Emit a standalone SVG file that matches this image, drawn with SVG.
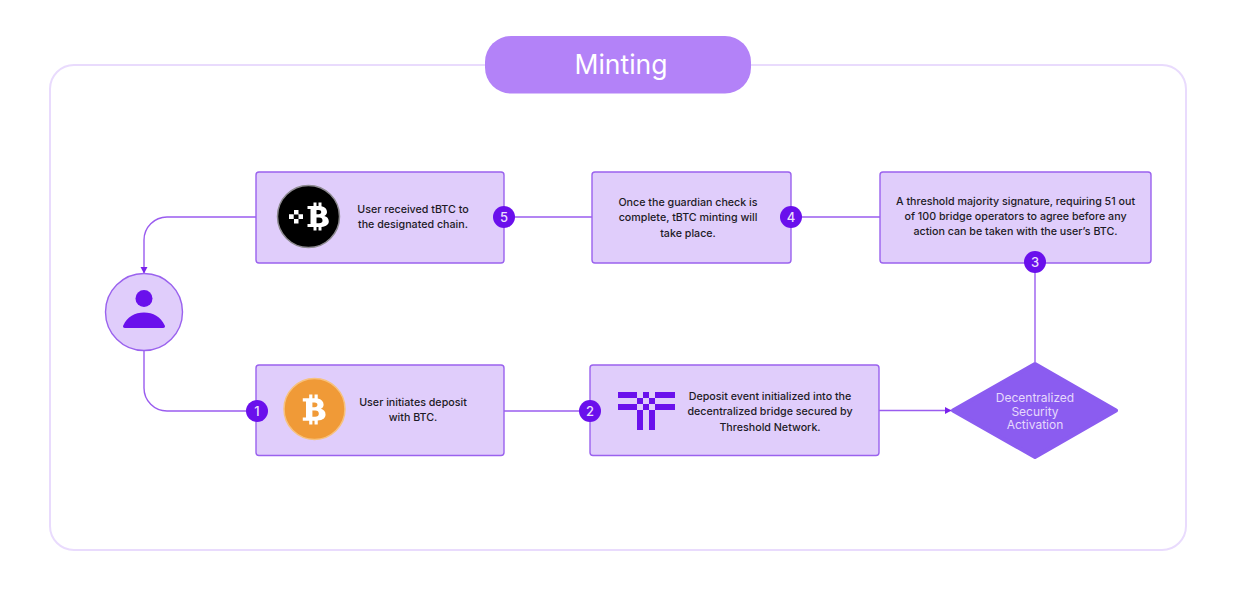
<svg xmlns="http://www.w3.org/2000/svg" width="1238" height="592" viewBox="0 0 1238 592">
<style>
.box{fill:#E0CDFB;stroke:#9A62EE;stroke-width:1.4}
.t{font-family:Inter,"Liberation Sans",sans-serif;font-size:10.7px;font-weight:500;fill:#1d1a26;text-anchor:middle;dominant-baseline:central}
.n{font-family:Inter,"Liberation Sans",sans-serif;font-size:13px;font-weight:500;fill:#EADFFD;text-anchor:middle;dominant-baseline:central}
.b{fill:#6A10EC}
.c{fill:none;stroke:#9A5CEF;stroke-width:1.4}
.d{font-family:Inter,"Liberation Sans",sans-serif;font-size:12px;font-weight:400;fill:#E6D9FC;text-anchor:middle;dominant-baseline:central}
</style>
<defs>
<marker id="arrow" markerWidth="8" markerHeight="8" refX="6" refY="3.5" orient="auto" markerUnits="userSpaceOnUse"><path d="M0 0L6.5 3.5L0 7Z" fill="#7A22EC"/></marker>
<symbol id="btc" viewBox="0 0 22 29" overflow="visible">
<path fill="#fff" fill-rule="evenodd" d="M0.500 4H6.500V0.500H9.500V4H11.500V0.500H14.500V4.300C18 5 20 7 20 10C20 11.800 19 13.200 17.300 13.900C20 14.500 21.800 16.400 21.800 19.200C21.800 22.400 19.500 24.400 14.500 24.900V28.500H11.500V25H9.500V28.500H6.500V25H0.500V22H3.500V7H0.500ZM9.500 8V12.300H11.500C13.500 12.300 14.200 11.400 14.200 10.100C14.200 8.900 13.500 8 11.500 8ZM9.500 15.500V21.200H12C14.400 21.200 15.500 20.200 15.500 18.400C15.500 16.600 14.400 15.500 12 15.500Z"/>
</symbol>
</defs>
<rect width="1238" height="592" fill="#fff"/>
<rect id="frame" x="50" y="65" width="1136" height="485" rx="24" fill="none" stroke="#E9DBFD" stroke-width="2"/>
<g id="connectors">
<path class="c" marker-end="url(#arrow)" d="M256 217H167A23 23 0 0 0 144 240V273"/>
<path class="c" d="M144 351V388A23 23 0 0 0 167 411H246"/>
<path class="c" d="M504 411H580"/>
<path class="c" marker-end="url(#arrow)" d="M879 410.500H951"/>
<path class="c" d="M1035 362V272"/>
<path class="c" d="M801 217H880"/>
<path class="c" d="M514 217H592"/>
</g>
<g id="title"><rect x="485" y="36" width="266" height="57.500" rx="26" fill="#B382F8"/><text x="621" y="64" font-family="Inter,'Liberation Sans',sans-serif" font-size="26.500" fill="#fff" text-anchor="middle" dominant-baseline="central">Minting</text></g>
<g id="user">
<circle cx="144" cy="312" r="38.500" fill="#E0CDFB" stroke="#9A62EE" stroke-width="1.400"/>
<circle cx="144" cy="298.500" r="8.500" fill="#6A10EC"/>
<path fill="#6A10EC" d="M125 328C123 328 122.500 326.500 123.500 325C127 317 135 312.500 144 312.500C153 312.500 161 317 164.500 325C165.500 326.500 165 328 163 328Z"/>
</g>
<g id="step5">
<rect class="box" x="256" y="172" width="248" height="91" rx="3"/>
<circle cx="308.500" cy="216.500" r="31" fill="#000" stroke="#8d8a90" stroke-width="1.500"/>
<path fill="#fff" d="M289 214.300H293.700V219H289ZM294 210H298.500V214.500H294ZM298.500 214.300H303V219H298.500ZM294 219H298.500V223.500H294Z"/>
<use href="#btc" x="307" y="202" width="22" height="29"/>
<text class="t" x="413" y="209">User received tBTC to</text>
<text class="t" x="413" y="224.500">the designated chain.</text>
</g>
<g id="step4">
<rect class="box" x="592" y="172" width="199" height="91" rx="3"/>
<text class="t" x="688" y="202">Once the guardian check is</text>
<text class="t" x="688" y="217.500">complete, tBTC minting will</text>
<text class="t" x="688" y="233">take place.</text>
</g>
<g id="step3">
<rect class="box" x="880" y="172" width="271" height="91" rx="3"/>
<text class="t" x="1015.500" y="201">A threshold majority signature, requiring 51 out</text>
<text class="t" x="1015.500" y="216">of 100 bridge operators to agree before any</text>
<text class="t" x="1015.500" y="231">action can be taken with the user’s BTC.</text>
</g>
<g id="step1">
<rect class="box" x="256" y="365" width="248" height="90.500" rx="3"/>
<circle cx="314.500" cy="409" r="30.500" fill="#F09A37" stroke="#F7C27E" stroke-width="1.500"/>
<use href="#btc" x="302" y="394" width="24" height="31"/>
<text class="t" x="413" y="402">User initiates deposit</text>
<text class="t" x="413" y="417.500">with BTC.</text>
</g>
<g id="step2">
<rect class="box" x="590" y="365" width="289" height="90.500" rx="3"/>
<path fill="#6A10EC" d="M618 392H637V398H618ZM643 392H649V398H643ZM655 392H675V398H655ZM637 398H643V404H637ZM649 398H655V404H649ZM618 404H637V410H618ZM643 404H649V410H643ZM655 404H675V410H655ZM637 410H643V430H637ZM649 410H655V430H649Z"/>
<text class="t" x="770" y="396">Deposit event initialized into the</text>
<text class="t" x="770" y="411.500">decentralized bridge secured by</text>
<text class="t" x="770" y="427">Threshold Network.</text>
</g>
<g id="decision">
<path fill="#8B5CF0" stroke="#8B5CF0" stroke-width="4" stroke-linejoin="round" d="M1035 364L1116 410.500L1035 457L953 410.500Z"/>
<text class="d" x="1035" y="397.500">Decentralized</text>
<text class="d" x="1035" y="411">Security</text>
<text class="d" x="1035" y="424.500">Activation</text>
</g>
<g id="badges">
<g id="badge1"><circle class="b" cx="257" cy="411" r="11"/><text class="n" x="257" y="411">1</text></g>
<g id="badge2"><circle class="b" cx="590" cy="411" r="11"/><text class="n" x="590" y="411">2</text></g>
<g id="badge3"><circle class="b" cx="1035" cy="262" r="11"/><text class="n" x="1035" y="262">3</text></g>
<g id="badge4"><circle class="b" cx="791" cy="217" r="11"/><text class="n" x="791" y="217">4</text></g>
<g id="badge5"><circle class="b" cx="504" cy="217" r="11"/><text class="n" x="504" y="217">5</text></g>
</g>
</svg>
